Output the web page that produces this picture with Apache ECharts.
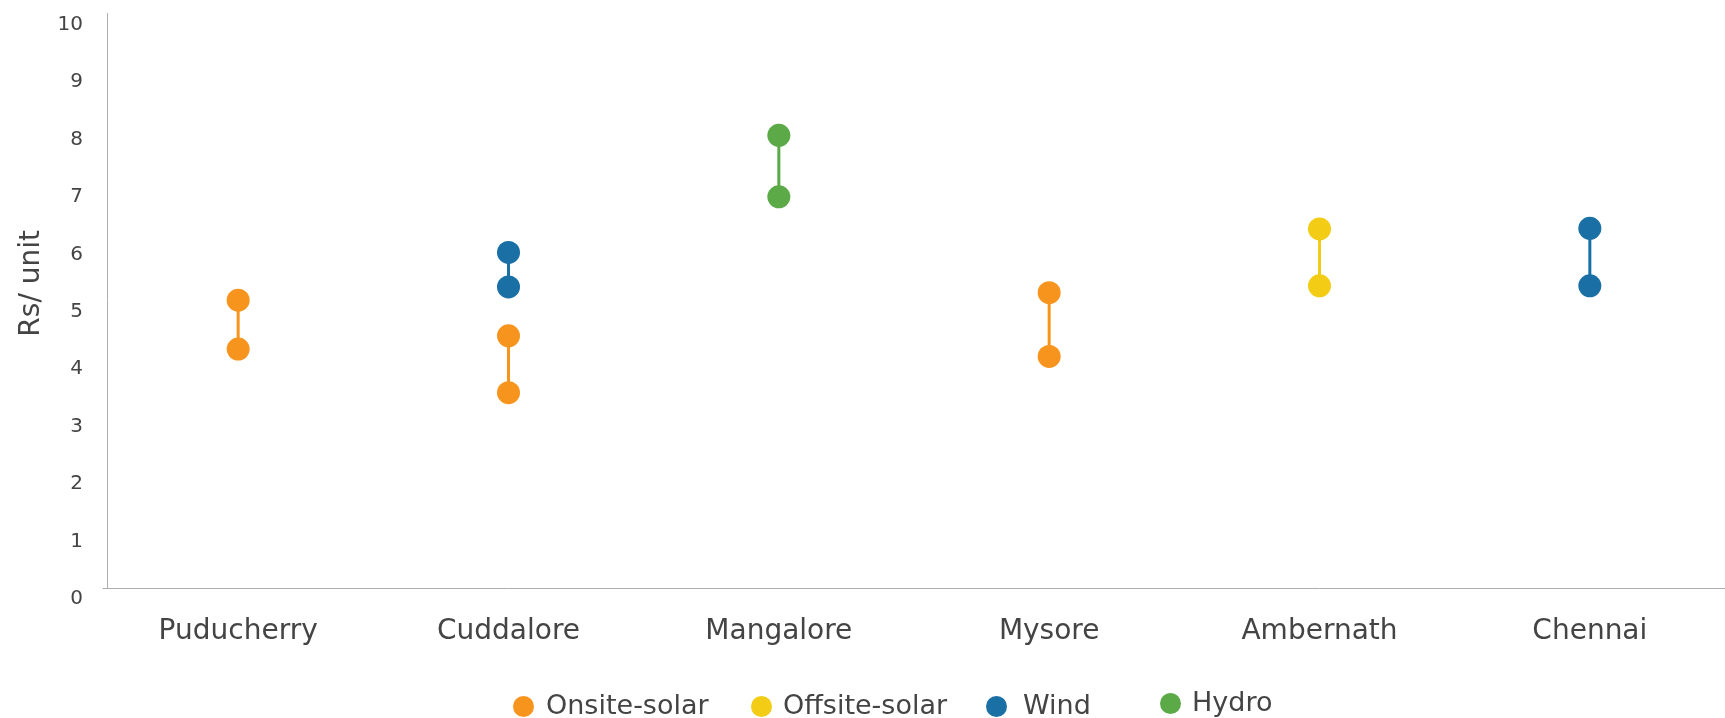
<!DOCTYPE html>
<html>
<head>
<meta charset="utf-8">
<title>Rs/ unit by location</title>
<script src="https://cdn.jsdelivr.net/npm/echarts@6/dist/echarts.min.js"></script>
<style>
  html, body { margin: 0; padding: 0; background: #fff; }
  #chart { width: 1725px; height: 718px; }
</style>
</head>
<body>
<div id="chart"></div>
<script>
// locations on the x axis
var cities = ['Puducherry', 'Cuddalore', 'Mangalore', 'Mysore', 'Ambernath', 'Chennai'];
var yTicks = [0, 1, 2, 3, 4, 5, 6, 7, 8, 9, 10];

// [low, high] per location, null where the source has no value
var onsiteSolar  = [[4.16, 5.01], [3.40, 4.39], null, [4.03, 5.14], null, null];
var offsiteSolar = [null, null, null, null, [5.26, 6.25], null];
var wind         = [null, [5.24, 5.84], null, null, null, [5.26, 6.26]];
var hydro        = [null, null, [6.81, 7.88], null, null, null];

var sources = [
  { name: 'Onsite-solar',  color: '#F7941D', values: onsiteSolar },
  { name: 'Offsite-solar', color: '#F2CC15', values: offsiteSolar },
  { name: 'Wind',          color: '#1A6FA5', values: wind },
  { name: 'Hydro',         color: '#5BAA47', values: hydro }
];

var font = 'DejaVu Sans';
var textColor = '#444444';

// one small line series per dumbbell, same name so the legend groups them
var series = [];
sources.forEach(function (s) {
  s.values.forEach(function (pair, i) {
    if (!pair) return;
    series.push({
      name: s.name,
      type: 'line',
      data: [[cities[i], pair[0]], [cities[i], pair[1]]],
      symbol: 'circle',
      symbolSize: 23,
      itemStyle: { color: s.color },
      lineStyle: { color: s.color, width: 3 },
      emphasis: { disabled: true }
    });
  });
});

// legend entries are spaced unevenly in the source, so one legend each
var legendLeft = [508, 746, 981, 1155];
var legendTextGap = [7, 6, 11, 6];
var legendTop = [688, 688, 688, 685];
var legends = sources.map(function (s, i) {
  return {
    data: [{ name: s.name, icon: 'circle' }],
    left: legendLeft[i],
    top: legendTop[i],
    itemWidth: 21,
    itemHeight: 21,
    textStyle: { fontFamily: font, fontSize: 27, color: textColor, padding: [0, 0, 0, legendTextGap[i]] }
  };
});

var chart = echarts.init(document.getElementById('chart'));
chart.setOption({
  animation: false,
  grid: { left: 103, right: -7, top: 13.5, bottom: 130 },
  legend: legends,
  xAxis: {
    type: 'category',
    data: cities,
    axisLine: { lineStyle: { color: '#ADADAD', width: 1 } },
    axisTick: { show: false },
    axisLabel: { margin: 30, fontFamily: font, fontSize: 28, color: textColor, interval: 0 }
  },
  yAxis: {
    type: 'value',
    min: yTicks[0],
    max: yTicks[yTicks.length - 1],
    interval: 1,
    offset: -4,
    splitLine: { show: false },
    axisTick: { show: false },
    axisLine: { show: true, lineStyle: { color: '#ADADAD', width: 1 } },
    axisLabel: { margin: 24, fontFamily: font, fontSize: 20, color: textColor, verticalAlign: 'top', lineHeight: 22 }
  },
  graphic: [{
    type: 'text',
    left: 18,
    top: 230,
    rotation: Math.PI / 2,
    style: { text: 'Rs/ unit', fontFamily: font, fontSize: 28, fill: textColor }
  }],
  series: series
});
</script>
</body>
</html>
